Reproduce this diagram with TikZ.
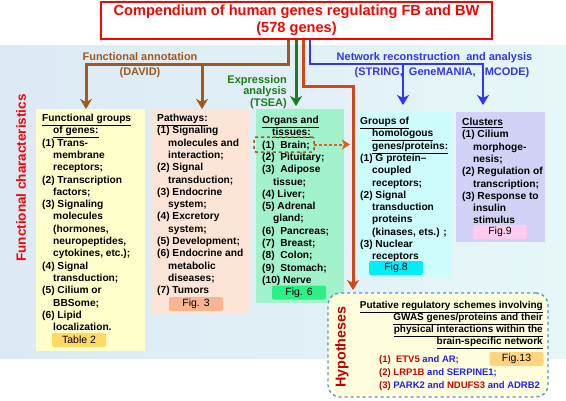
\documentclass[tikz,border=0pt]{standalone}
\usepackage{fontspec}
\setmainfont{Liberation Sans}
\usetikzlibrary{arrows.meta}
\definecolor{cRed}{HTML}{FF0000}
\definecolor{cBrown}{HTML}{A05A1E}
\definecolor{cGreen}{HTML}{1E7B1E}
\definecolor{cOrange}{HTML}{D4461A}
\definecolor{cDots}{HTML}{E0601A}
\definecolor{cBlue}{HTML}{3333FF}
\definecolor{bgL}{HTML}{DCE9F5}
\definecolor{bgR}{HTML}{E6F7F8}
\definecolor{cFG}{HTML}{FFFFCC}
\definecolor{cPW}{HTML}{FCE4D6}
\definecolor{cOR}{HTML}{A2F2CC}
\definecolor{cGR}{HTML}{CCFCFC}
\definecolor{cCL}{HTML}{D2D2F6}
\definecolor{cT2}{HTML}{FFD966}
\definecolor{cF3}{HTML}{F8B592}
\definecolor{cF6}{HTML}{2EEE88}
\definecolor{cF8}{HTML}{00EEFA}
\definecolor{cF9}{HTML}{FFCCEE}
\definecolor{cF13}{HTML}{FFD480}
\definecolor{hypF}{HTML}{FFFFDD}
\definecolor{hypB}{HTML}{5B8FD6}
\definecolor{hypR}{HTML}{C00000}
\definecolor{geneR}{HTML}{DD0000}
\definecolor{geneB}{HTML}{2020FF}
\begin{document}
\begin{tikzpicture}[x=1pt,y=-1pt,
  boxst/.style={inner sep=0,outer sep=0,anchor=north west},
  bodytxt/.style={inner sep=0,anchor=north west,align=left,font=\fontsize{10.2}{12.3}\selectfont\bfseries},
  figlab/.style={fill=#1,rounded corners=2pt,inner sep=0,minimum width=54,minimum height=14,font=\fontsize{10.5}{12}\selectfont},
  conn/.style={line width=3pt,-{Stealth[length=10pt,width=12pt,inset=3pt]}},
  lab/.style={inner sep=0,font=\fontsize{11}{11.7}\selectfont\bfseries}]
\useasboundingbox (0,0) rectangle (566,400);
\fill[left color=bgL,right color=bgR] (0,45) rectangle (566,358);

% title
\node[draw=cRed,line width=2pt,fill=white,minimum width=391,minimum height=37,inner sep=0,text=cRed,align=center,font=\fontsize{14.6}{17.4}\selectfont\bfseries] (title) at (296.5,20.5) {Compendium of human genes regulating FB and BW\\(578 genes)};

% boxes
\node[boxst,fill=cFG,minimum width=109,minimum height=242] (fg) at (36,109) {};
\node[boxst,fill=cPW,minimum width=98,minimum height=204] (pw) at (151,109) {};
\node[boxst,fill=cOR,minimum width=88,minimum height=194] (org) at (256,109) {};
\node[boxst,fill=cGR,minimum width=95,minimum height=165] (grp) at (357,112) {};
\node[boxst,fill=cCL,minimum width=89,minimum height=130] (cl) at (456,112) {};
\node[boxst,draw=hypB,dashed,line width=1.3pt,fill=hypF,rounded corners=12pt,minimum width=220,minimum height=104] (hyp) at (328,293) {};

% box texts
\node[bodytxt] (fgt) at (42,114) {\underline{Functional groups}\\
\hspace*{11pt}\underline{of genes:}\\
(1) Trans-\\
\hspace*{11pt}membrane\\
\hspace*{11pt}receptors;\\
(2) Transcription\\
\hspace*{11pt}factors;\\
(3) Signaling\\
\hspace*{11pt}molecules\\
\hspace*{11pt}(hormones,\\
\hspace*{11pt}neuropeptides,\\
\hspace*{11pt}cytokines, etc.);\\
(4) Signal\\
\hspace*{11pt}transduction;\\
(5) Cilium or\\
\hspace*{11pt}BBSome;\\
(6) Lipid\\
\hspace*{11pt}localization.};

\node[bodytxt] (pwt) at (157,114) {\underline{Pathways:}\\
(1) Signaling\\
\hspace*{11pt}molecules and\\
\hspace*{11pt}interaction;\\
(2) Signal\\
\hspace*{11pt}transduction;\\
(3) Endocrine\\
\hspace*{11pt}system;\\
(4) Excretory\\
\hspace*{11pt}system;\\
(5) Development;\\
(6) Endocrine and\\
\hspace*{11pt}metabolic\\
\hspace*{11pt}diseases;\\
(7) Tumors};

\node[bodytxt] (orgt) at (262,116) {\underline{Organs and}\\
\hspace*{10pt}\underline{tissues:}\\
(1)~ Brain;\\
(2)~ Pituitary;\\
(3)~ Adipose\\
\hspace*{11pt}tissue;\\
(4) Liver;\\
(5) Adrenal\\
\hspace*{11pt}gland;\\
(6)~ Pancreas;\\
(7)~ Breast;\\
(8)~ Colon;\\
(9)~ Stomach;\\
(10) Nerve};

\node[bodytxt] (grpt) at (360,117) {\underline{Groups of}\\
\hspace*{12pt}\underline{homologous}\\
\hspace*{12pt}\underline{genes/proteins:}\\
(1) G protein--\\
\hspace*{12pt}coupled\\
\hspace*{12pt}receptors;\\
(2) Signal\\
\hspace*{12pt}transduction\\
\hspace*{12pt}proteins\\
\hspace*{12pt}(kinases, ets.) ;\\
(3) Nuclear\\
\hspace*{12pt}receptors};

\node[bodytxt] (clt) at (462,118) {\underline{Clusters}\\
(1) Cilium\\
\hspace*{11pt}morphoge-\\
\hspace*{11pt}nesis;\\
(2) Regulation of\\
\hspace*{11pt}transcription;\\
(3) Response to\\
\hspace*{11pt}insulin\\
\hspace*{11pt}stimulus};

\node[inner sep=0,anchor=north east,align=right,font=\fontsize{10}{12}\selectfont\bfseries] (hyph) at (543,301) {\underline{Putative regulatory schemes involving}\\
\underline{GWAS genes/proteins and their}\\
\underline{physical interactions within the}\\
\underline{brain-specific network}};

\node[inner sep=0,anchor=north west,align=left,font=\fontsize{9.5}{13}\selectfont\bfseries] (hypi) at (379,355) {{\color{hypR}(1)~ }{\color{geneR}ETV5} {\color{geneB}and AR;}\\
{\color{hypR}(2)} {\color{geneR}LRP1B} {\color{geneB}and SERPINE1;}\\
{\color{hypR}(3)} {\color{geneB}PARK2 and} {\color{geneR}NDUFS3} {\color{geneB}and ADRB2}};

% figure labels
\node[figlab=cT2] (t2) at (79,340) {Table 2};
\node[figlab=cF3] (f3) at (196,304) {Fig. 3};
\node[figlab=cF6] (f6) at (299,292.5) {Fig. 6};
\node[figlab=cF8] (f8) at (396,268) {Fig.8};
\node[figlab=cF9] (f9) at (500,232) {Fig.9};
\node[figlab=cF13] (f13) at (516.5,359) {Fig.13};

% rotated titles
\node[inner sep=0,rotate=90,text=cRed,font=\fontsize{13.5}{14}\selectfont\bfseries] (fc) at (21,178) {Functional characteristics};
\node[inner sep=0,rotate=90,text=hypR,font=\fontsize{14.3}{15}\selectfont\bfseries] (hy) at (342,347) {Hypotheses};

% connector labels
\node[lab,text=cBrown] (fa) at (140,57) {Functional annotation};
\node[lab,text=cBrown] (david) at (140,73) {(DAVID)};
\node[lab,text=cGreen,align=right,anchor=north east] (ea) at (287,75) {Expression\\analysis\\(TSEA)};
\node[lab,text=cBlue] (nr) at (434.5,58) {Network reconstruction\ \ and analysis};
\node[lab,text=cBlue] (str) at (442,73) {(STRING,\ \ GeneMANIA,\ \ \ MCODE)};

% brain highlight
\node[boxst,draw=cBrown,dashed,line width=1.5pt,rounded corners=2pt,minimum width=60,minimum height=15] (brain) at (254,137) {};
\coordinate (brtip) at (350,144.5);
\draw[cDots,line width=2pt,dash pattern=on 3pt off 2pt,-{Stealth[length=8pt,width=10pt,inset=2pt]}] (brain.east) -- (brtip);

% connectors
\coordinate (orgTop) at (296,106);
\coordinate (grpTop) at (403,105);
\coordinate (clTop) at (483,105);
\coordinate (hypTop) at (353,290);
\draw[conn,cBrown] (288,0 |- title.south) -- (288,64) -- (86,64) -- (86,0 |- fg.north);
\draw[conn,cBrown] (202,64) -- (202,0 |- pw.north);
\draw[conn,cGreen] (296,0 |- title.south) -- (orgTop);
\draw[conn,cOrange] (303,0 |- title.south) -- (303,86) -- (353,86) -- (hypTop);
\draw[conn,cBlue,line width=2.6pt] (310,0 |- title.south) -- (310,64) -- (483,64) -- (clTop);
\draw[conn,cBlue,line width=2.6pt] (403,64) -- (grpTop);
\end{tikzpicture}
\end{document}
